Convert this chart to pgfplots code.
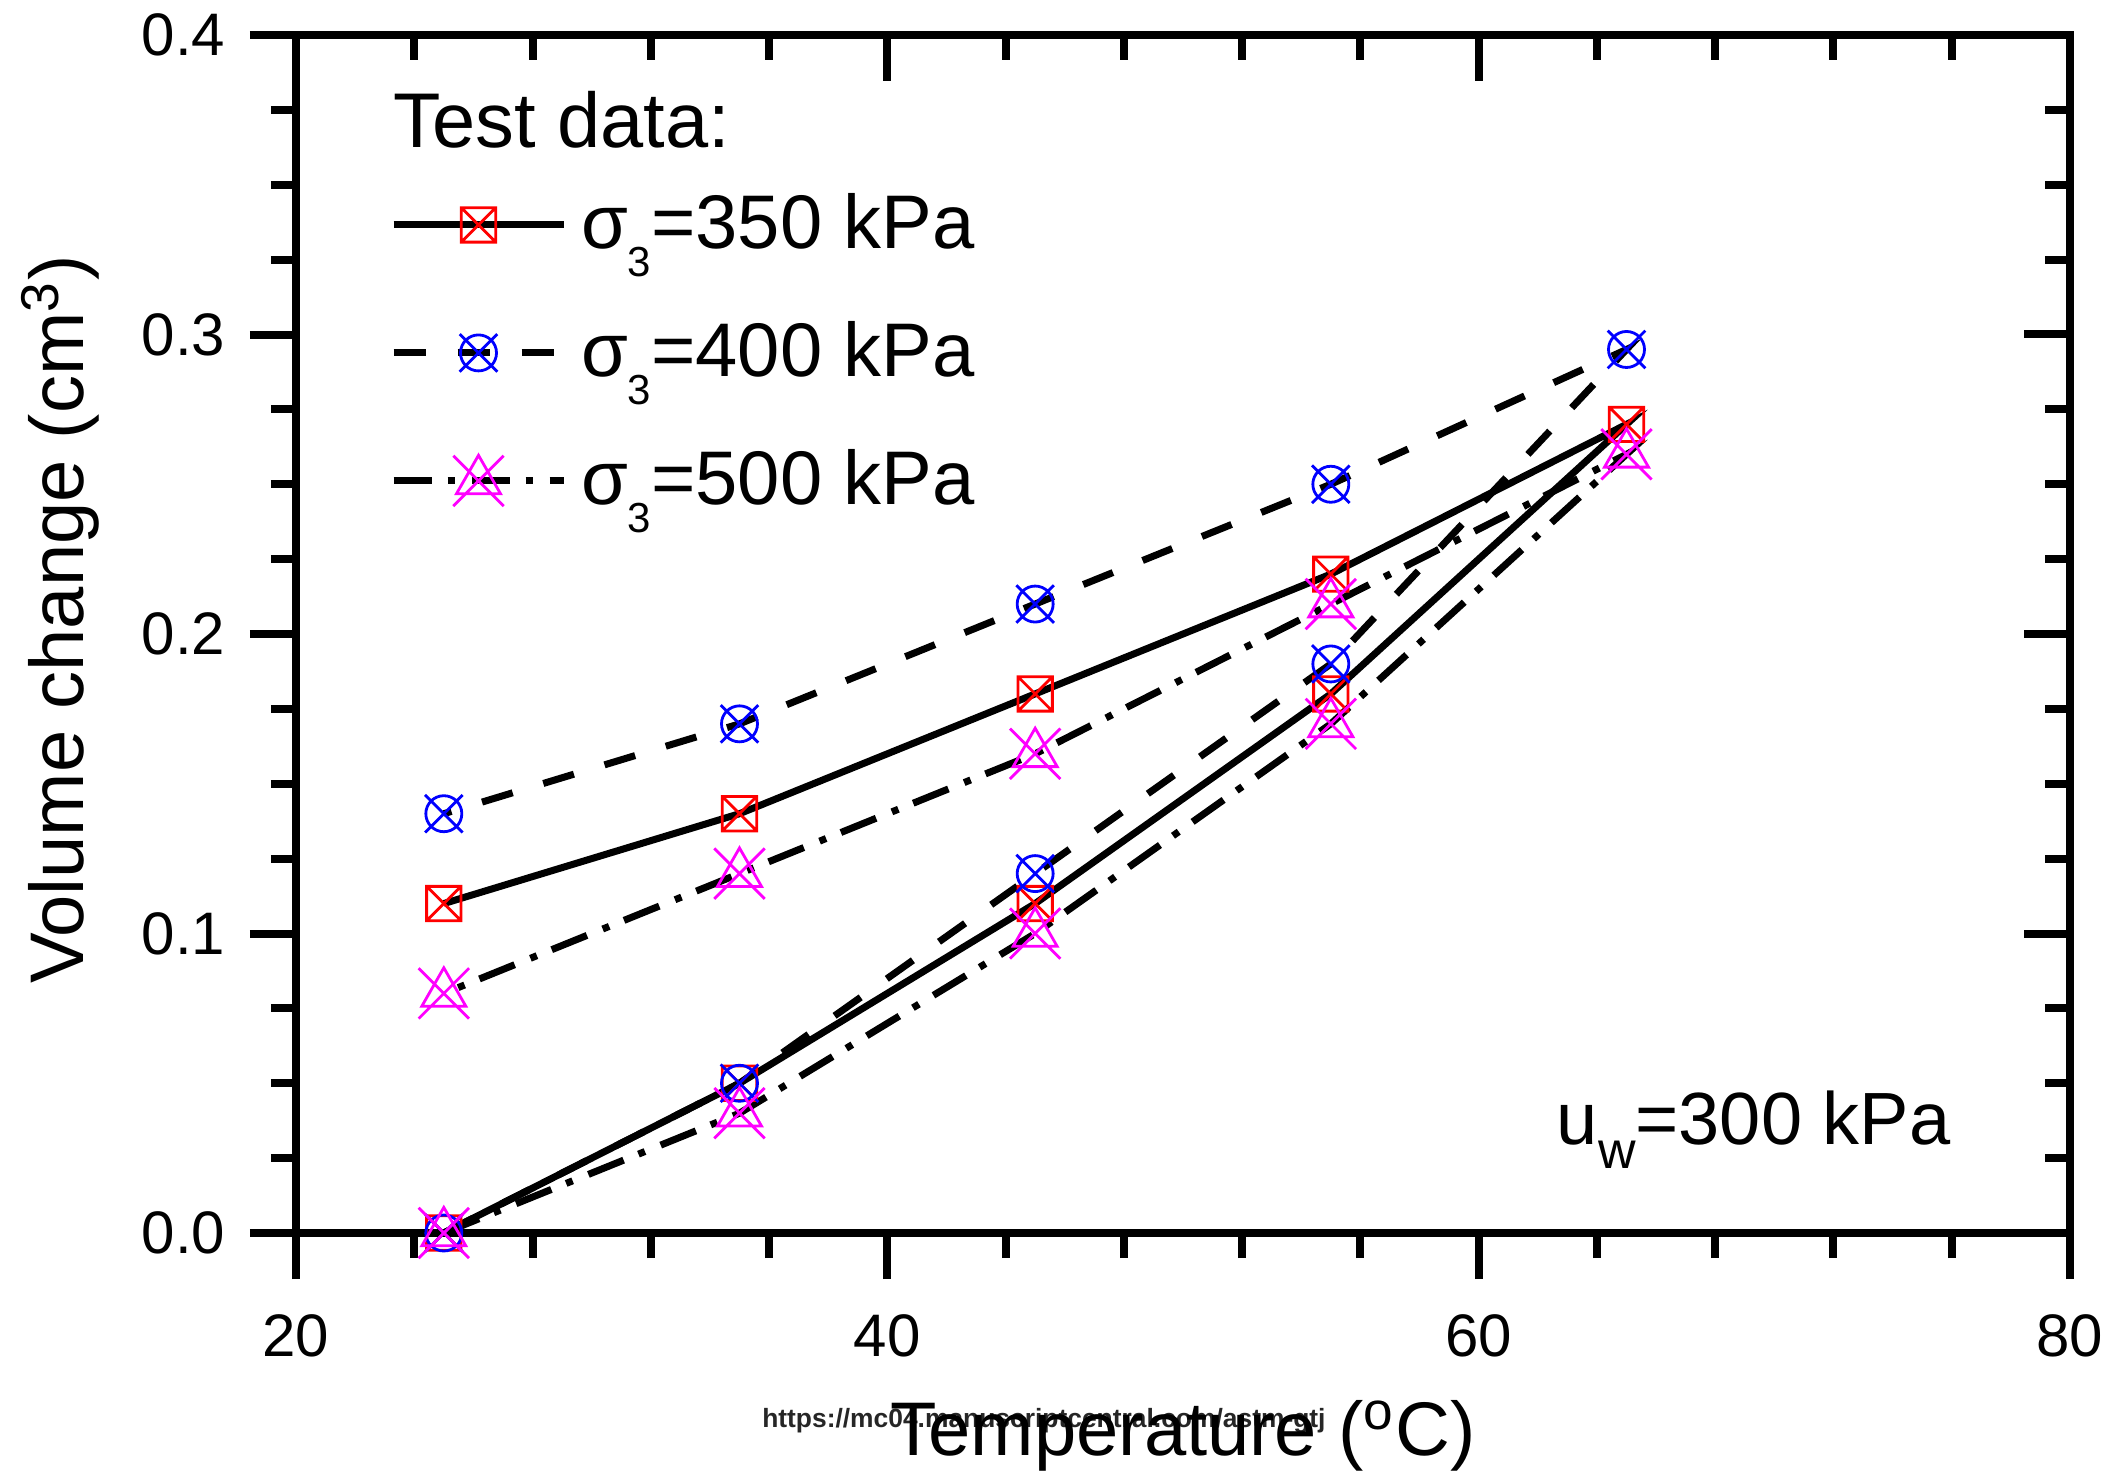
\documentclass[border=0pt]{standalone}
\usepackage{fontspec}
\setmainfont{Liberation Sans}
\usepackage{graphicx}
\usepackage{pgfplots}
\usepackage{pgfplotstable}
\pgfplotsset{compat=1.18}

\definecolor{mred}{RGB}{255,0,0}
\definecolor{mblue}{RGB}{0,0,255}
\definecolor{mmag}{RGB}{255,0,255}

\pgfdeclareplotmark{sqx}{%
  \pgfpathrectangle{\pgfpoint{-4.3pt}{-4.3pt}}{\pgfpoint{8.6pt}{8.6pt}}%
  \pgfpathmoveto{\pgfpoint{-4.3pt}{-4.3pt}}\pgfpathlineto{\pgfpoint{4.3pt}{4.3pt}}%
  \pgfpathmoveto{\pgfpoint{-4.3pt}{4.3pt}}\pgfpathlineto{\pgfpoint{4.3pt}{-4.3pt}}%
  \pgfusepathqstroke}
\pgfdeclareplotmark{cirx}{%
  \pgfpathcircle{\pgfpointorigin}{4.5pt}%
  \pgfpathmoveto{\pgfpoint{-4.7pt}{-4.7pt}}\pgfpathlineto{\pgfpoint{4.7pt}{4.7pt}}%
  \pgfpathmoveto{\pgfpoint{-4.7pt}{4.7pt}}\pgfpathlineto{\pgfpoint{4.7pt}{-4.7pt}}%
  \pgfusepathqstroke}
\pgfdeclareplotmark{trix}{%
  \pgfpathmoveto{\pgfpoint{0pt}{6.4pt}}%
  \pgfpathlineto{\pgfpoint{5.5pt}{-3.2pt}}%
  \pgfpathlineto{\pgfpoint{-5.5pt}{-3.2pt}}%
  \pgfpathclose
  \pgfpathmoveto{\pgfpoint{-6.3pt}{-6.3pt}}\pgfpathlineto{\pgfpoint{6.3pt}{6.3pt}}%
  \pgfpathmoveto{\pgfpoint{-6.3pt}{6.3pt}}\pgfpathlineto{\pgfpoint{6.3pt}{-6.3pt}}%
  \pgfusepathqstroke}

% sigma3 = 350 kPa : heating path then cooling path
\pgfplotstableread{
T V
25 0
35 0.05
45 0.11
55 0.18
65 0.27
55 0.22
45 0.18
35 0.14
25 0.11
}\dataA
% sigma3 = 400 kPa
\pgfplotstableread{
T V
25 0
35 0.05
45 0.12
55 0.19
65 0.295
55 0.25
45 0.21
35 0.17
25 0.14
}\dataB
% sigma3 = 500 kPa
\pgfplotstableread{
T V
25 0
35 0.04
45 0.10
55 0.17
65 0.26
55 0.21
45 0.16
35 0.12
25 0.08
}\dataC

\tikzset{
  dashA/.style={dash pattern=on 8pt off 8pt},
  dashB/.style={dash pattern=on 9.5pt off 4pt on 1.75pt off 4.25pt},
}

\pgfplotsset{
  common/.style={
    scale only axis, width=443.5pt, height=299.5pt,
    xmin=20, xmax=80, ymin=0, ymax=0.4,
    xtick={20,40,60,80}, ytick={0,0.1,0.2,0.3,0.4},
    minor x tick num=4, minor y tick num=3,
    major tick length=11.5pt, minor tick length=6.25pt,
    every tick/.style={black, line width=2pt},
    axis line style={line width=2pt},
  }
}

\begin{document}
\begin{tikzpicture}
% top/right inward ticks
\begin{axis}[common, tick align=inside, xtick pos=right, ytick pos=right,
  xticklabels={}, yticklabels={}, axis line style={draw=none}]
\end{axis}
% main axis
\begin{axis}[common, tick align=outside, xtick pos=left, ytick pos=left,
  clip=false,
  /pgf/number format/assume math mode=true,
  ticklabel style={font=\fontsize{15}{18}\selectfont},
  yticklabel style={xshift=-2.7pt, /pgf/number format/fixed, /pgf/number format/fixed zerofill, /pgf/number format/precision=1},
  xticklabel style={yshift=-5.4pt},
  xlabel={Temperature (\textsuperscript{o}C)},
  ylabel={Volume change (cm\textsuperscript{3})},
  label style={font=\fontsize{19}{22}\selectfont},
  xlabel style={at={(axis description cs:0.5,-0.1853)}, anchor=base},
  ylabel style={at={(axis description cs:-0.1195,0.512)}, anchor=base},
  legend image code/.code={%
    \draw[mark repeat=2, mark phase=2, #1] plot coordinates {(0pt,0pt) (21.25pt,0pt) (42.5pt,0pt)};},
  legend cell align=left,
  legend style={draw=none, fill=none, inner sep=0pt, outer sep=0pt,
    at={(axis description cs:0.053,0.8782)}, anchor=north west,
    row sep=10pt, column sep=3.5pt,
    font=\fontsize{19}{22}\selectfont,
    nodes={inner sep=0pt, text height=17pt, text depth=5pt}},
]
\coordinate (bl) at (rel axis cs:0,0);
\coordinate (tr) at (rel axis cs:1,1);

\addplot[black, line width=1.75pt, forget plot] table[x=T, y=V] {\dataA};
\addplot[black, line width=1.75pt, dashA, forget plot] table[x=T, y=V] {\dataB};
\addplot[black, line width=1.75pt, dashB, forget plot] table[x=T, y=V] {\dataC};

\addplot[only marks, mark=sqx, mark options={mred, line width=0.7pt, solid}, forget plot] table[x=T, y=V] {\dataA};
\addplot[only marks, mark=cirx, mark options={mblue, line width=0.7pt, solid}, forget plot] table[x=T, y=V] {\dataB};
\addplot[only marks, mark=trix, mark options={mmag, line width=0.7pt, solid}, forget plot] table[x=T, y=V] {\dataC};

\addlegendimage{black, line width=1.75pt, mark=sqx, mark options={mred, line width=0.7pt, solid}}
\addlegendentry{σ\raisebox{-7pt}{\fontsize{10.5}{10.5}\selectfont 3}=350 kPa}
\addlegendimage{black, line width=1.75pt, dashA, mark=cirx, mark options={mblue, line width=0.7pt, solid}}
\addlegendentry{σ\raisebox{-7pt}{\fontsize{10.5}{10.5}\selectfont 3}=400 kPa}
\addlegendimage{black, line width=1.75pt, dashB, mark=trix, mark options={mmag, line width=0.7pt, solid}}
\addlegendentry{σ\raisebox{-7pt}{\fontsize{10.5}{10.5}\selectfont 3}=500 kPa}

\node[anchor=base west, inner sep=0pt, font=\fontsize{19.4}{22}\selectfont] at (axis description cs:0.0547,0.9057) {Test data:};
\node[anchor=base west, inner sep=0pt, font=\fontsize{18.5}{22}\selectfont] at (axis description cs:0.7103,0.0735) {u\raisebox{-6pt}{\fontsize{13}{13}\selectfont w}=300 kPa};
\node[inner sep=0pt, font=\bfseries\fontsize{6.6}{7}\selectfont, text=black!85] at (axis description cs:0.4216,-0.157) {https://mc04.manuscriptcentral.com/astm-gtj};
\end{axis}
\pgfresetboundingbox
\path[use as bounding box] ([shift={(-74pt,-59.25pt)}]bl) rectangle ([shift={(10.5pt,8.75pt)}]tr);
\end{tikzpicture}
\end{document}
